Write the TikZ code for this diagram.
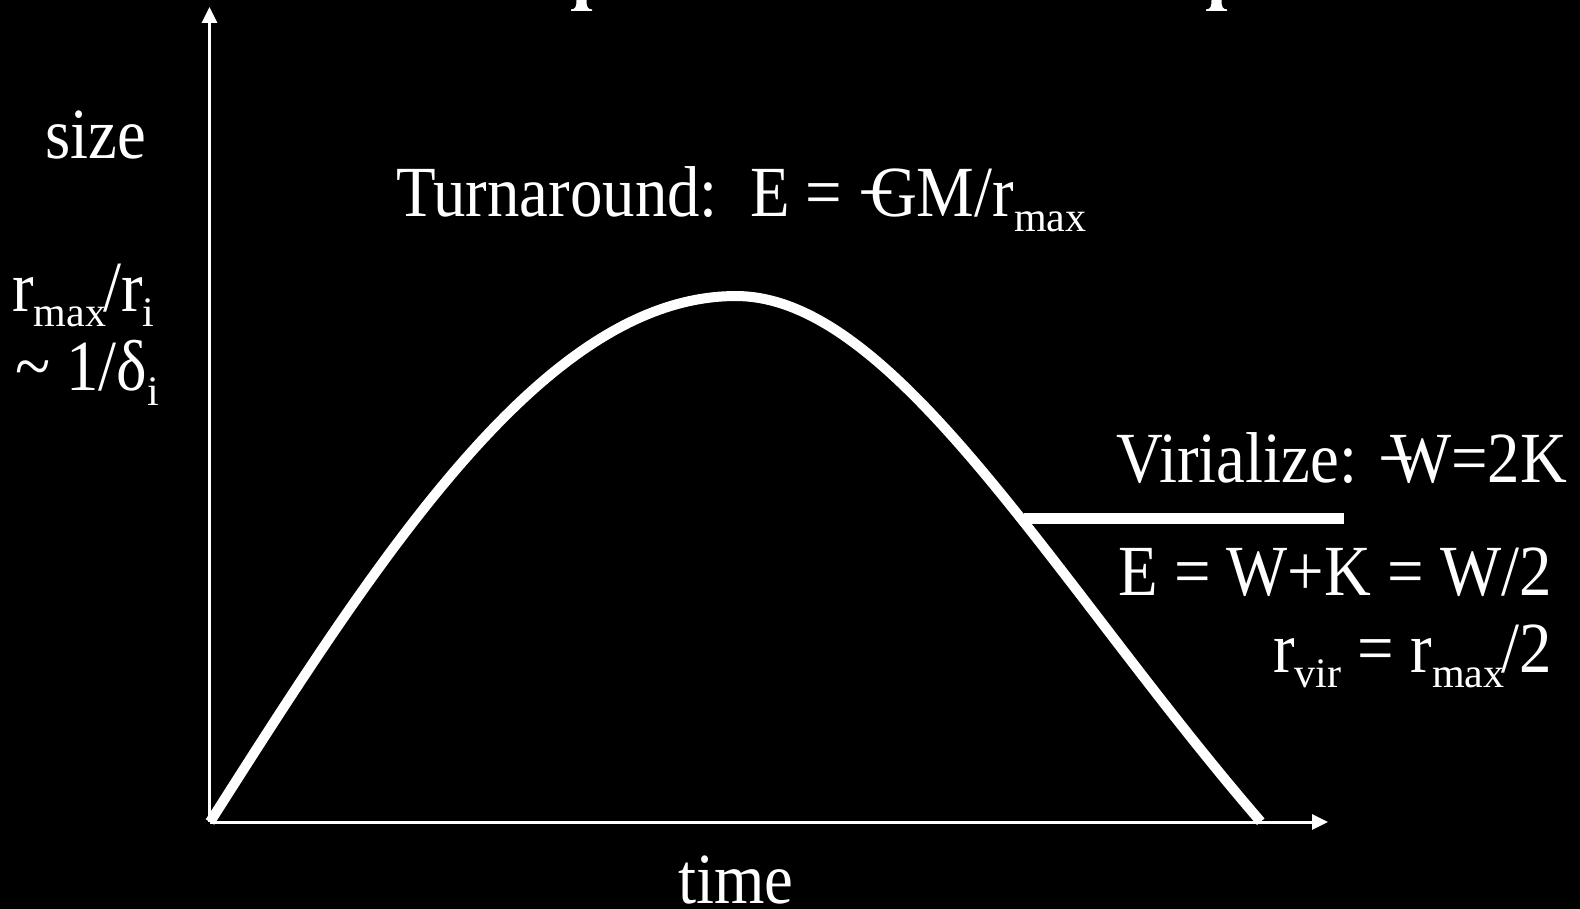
\documentclass[tikz,border=0pt]{standalone}
\usepackage{fontspec}
\setmainfont[FakeStretch=0.9]{Liberation Serif}
\newfontfamily\subfnt{Liberation Serif}
\usetikzlibrary{arrows.meta}
\newcommand\bigtxt{\fontsize{72}{76}\selectfont}
\newcommand\sbx[1]{\raisebox{-15pt}{\subfnt\fontsize{42}{42}\selectfont #1}}
\newcommand\mn{\textminus\kern-0.35em}
\tikzset{
  lbl/.style={text=white, inner sep=0pt, font=\bigtxt},
  axis/.style={draw=white, line width=3pt, -{Triangle[length=16pt,width=15pt]}},
  curve/.style={draw=white, line width=10pt, line cap=butt, line join=round},
  virline/.style={draw=white, line width=11pt, line cap=butt}
}
\begin{document}
\begin{tikzpicture}[x=1pt,y=-1pt]
\useasboundingbox (0,0) rectangle (1580,909);
\fill[black] (0,0) rectangle (1580,909);
% bits of the cut-off title
\foreach \cx in {581.5,1216.5}
  \fill[white,shift={(\cx,0)}] (-10.5,11) -- (10.5,11) -- (10.5,9.5) .. controls (6,9) and (5,7) .. (5,0) -- (-5,0) .. controls (-5,7) and (-6,9) .. (-10.5,9.5) -- cycle;
% axes
\coordinate (O) at (209.5,822);
\coordinate (ytop) at (209.5,7);
\coordinate (xend) at (1328,822);
\draw[axis] (O) -- (ytop);
\draw[axis] (O) -- (xend);
% collapse curve
\draw[curve] plot[domain=0:1, samples=90] ({210+526*\x},{822-526*sin(90*\x)})
  -- plot[domain=0:1, samples=90] ({736+525*\x},{822-526*cos(90*(\x+0.264*\x*(1-\x)))});
\coordinate (vj) at (1024,518);
\coordinate (ve) at (1344,518);
\draw[virline] (vj) -- (ve);
% labels
\node[lbl, anchor=base west] (size) at (45,159) {size};
\node[lbl, anchor=base west] (turn) at (396,217) {Turnaround:\ \ E = \mn GM/r\sbx{max}};
\node[lbl, anchor=base west] (ratio) at (12,312) {r\sbx{max}\kern-3pt/r\sbx{i}};
\node[lbl, anchor=base west] (delta) at (15,390) {\textasciitilde\ 1/δ\sbx{i}};
\node[lbl, anchor=base east] (vir) at (1567,482) {Virialize: \mn W=2K};
\node[lbl, anchor=base east] (energy) at (1552,595) {E = W+K = W/2};
\node[lbl, anchor=base east] (rvir) at (1552,672) {r\sbx{vir} = r\sbx{max}\kern-3pt/2};
\node[lbl, anchor=base west] (time) at (678,903) {time};
\end{tikzpicture}
\end{document}
